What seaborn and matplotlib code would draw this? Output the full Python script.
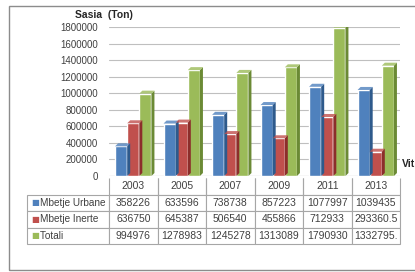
import matplotlib
matplotlib.use("Agg")
import matplotlib.pyplot as plt
from matplotlib.patches import Polygon, Rectangle
import seaborn as sns
import pandas as pd

# data
years = ["2003", "2005", "2007", "2009", "2011", "2013"]
series_names = ["Mbetje Urbane", "Mbetje Inerte", "Totali"]
urbane = [358226, 633596, 738738, 857223, 1077997, 1039435]
inerte = [636750, 645387, 506540, 455866, 712933, 293360.5]
totali = [994976, 1278983, 1245278, 1313089, 1790930, 1332795]
table_text = [
    ["358226", "633596", "738738", "857223", "1077997", "1039435"],
    ["636750", "645387", "506540", "455866", "712933", "293360.5"],
    ["994976", "1278983", "1245278", "1313089", "1790930", "1332795."],
]
colors = ["#4F81BD", "#C0504D", "#9BBB59"]
side_colors = ["#2E5A8C", "#8C2E2B", "#6B8A35"]

df = pd.DataFrame({
    "Viti": years * 3,
    "Seria": sum([[s] * len(years) for s in series_names], []),
    "Sasia": urbane + inerte + totali,
})

sns.set_style("white")
plt.rcParams["font.family"] = ["Liberation Sans", "DejaVu Sans"]

W, H = 415, 272
fig = plt.figure(figsize=(W / 100, H / 100), dpi=100)

# outer frame
fig.patches.append(Rectangle((9 / W, 2 / H), 1.2, (H - 8) / H, transform=fig.transFigure,
                             fill=False, edgecolor="#8C8C8C", lw=1.0))

ax = fig.add_axes([109 / W, 1 - 176 / H, 291 / W, 149 / H])
sns.barplot(data=df, x="Viti", y="Sasia", hue="Seria", palette=colors,
            width=0.75, gap=0, saturation=1, ax=ax, legend=False, zorder=3)
ax.set_ylim(0, 1800000)
ax.set_xlim(-0.5, len(years) - 0.5)
ax.set_yticks(range(0, 1800001, 200000))
ax.set_yticklabels([str(v) for v in range(0, 1800001, 200000)], fontsize=7, color="#404040")
ax.tick_params(axis="y", length=0, pad=8)
ax.set_xticks([])
ax.set_xlabel("")
ax.set_ylabel("")
ax.grid(axis="y", color="#BFBFBF", lw=0.8, zorder=0)
for s in ax.spines.values():
    s.set_visible(False)
ax.axhline(0, color="#BFBFBF", lw=0.8, zorder=1)

# fake 3d side and top faces
dx = 3 * len(years) / 291.0
dy = 3 * 1800000 / 149.0
for i, p in enumerate(ax.patches[:len(years) * 3]):
    k = i // len(years)
    x1 = p.get_x() + p.get_width()
    x0 = p.get_x()
    h = p.get_height()
    ax.add_patch(Polygon([(x1, 0), (x1, h), (x1 + dx, h + dy), (x1 + dx, dy)],
                         closed=True, facecolor=side_colors[k], edgecolor="none", zorder=3))
    ax.add_patch(Polygon([(x0, h), (x1, h), (x1 + dx, h + dy), (x0 + dx, h + dy)],
                         closed=True, facecolor=colors[k], edgecolor="none", zorder=3, alpha=0.8))

fig.text(75 / W, 1 - 15 / H, "Sasia  (Ton)", fontsize=7.5, fontweight="bold",
         color="#262626", va="center")
fig.text(402 / W, 1 - 164 / H, "Vit", fontsize=7.5, fontweight="bold",
         color="#262626", va="center")

# data table
tax = fig.add_axes([27 / W, 1 - 244 / H, 373 / W, 66 / H])
tax.axis("off")
cell_text = [["    " + series_names[i]] + table_text[i] for i in range(3)]
col_widths = [82 / 373] + [48.5 / 373] * len(years)
tbl = tax.table(cellText=cell_text, colLabels=[""] + years, colWidths=col_widths,
                cellLoc="center", bbox=[0, 0, 1, 1])
tbl.auto_set_font_size(False)
for (r, c), cell in tbl.get_celld().items():
    cell.set_edgecolor("#A6A6A6")
    cell.set_linewidth(0.8)
    cell.get_text().set_fontsize(7.5)
    cell.get_text().set_color("#404040")
    if c == 0:
        cell.PAD = 0.02
        cell.get_text().set_fontsize(7.2)
        cell.get_text().set_ha("left")
        cell._loc = "left"
    if r == 0 and c == 0:
        cell.visible_edges = ""
    elif r == 0:
        cell.visible_edges = "LRB"
for i in range(3):
    tax.text(0.012, (3 - i - 0.5) / 4, "■", color=colors[i], fontsize=6,
             va="center", ha="left", transform=tax.transAxes,
             family=["DejaVu Sans"])

fig.savefig("out.png", dpi=100)
